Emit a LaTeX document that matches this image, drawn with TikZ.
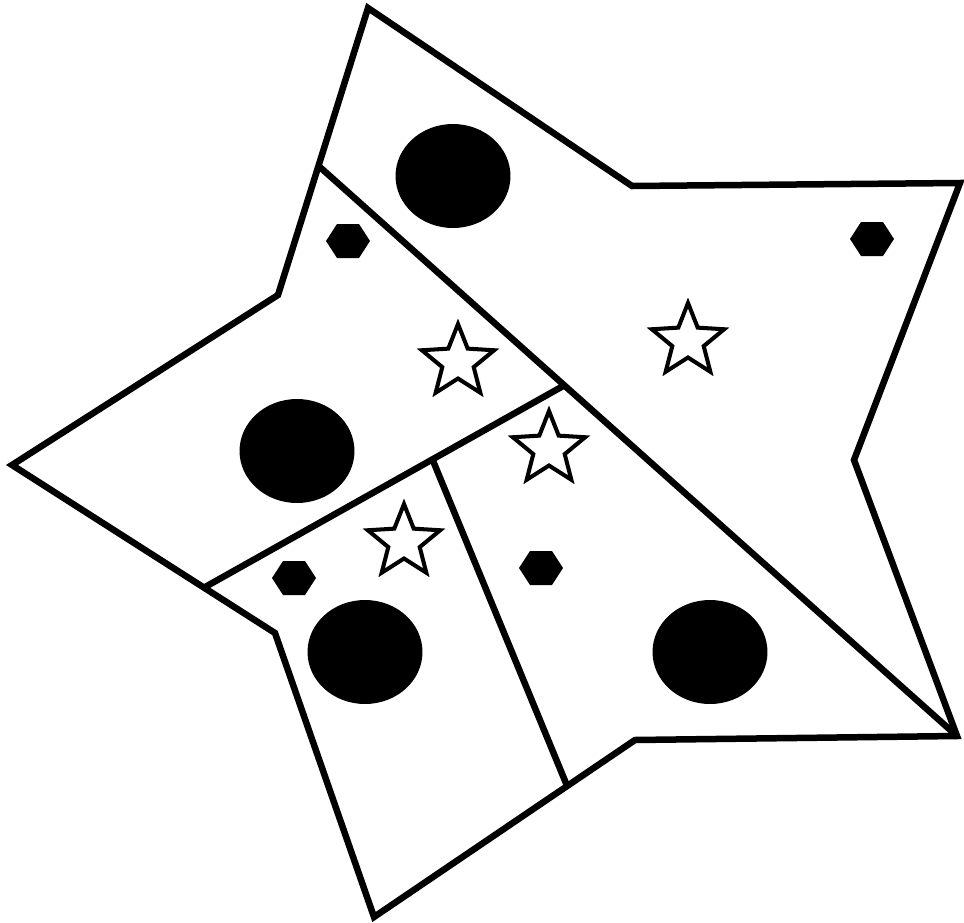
\documentclass[tikz,border=0pt]{standalone}
\usepackage{tikz}
\usetikzlibrary{shapes.geometric,calc}

\begin{document}
\begin{tikzpicture}[
  x=0.02cm, y=-0.02cm,
  outline/.style={draw, line width=3.7pt, line join=miter},
  cut/.style={draw, line width=3.7pt},
  dot/.style={ellipse, fill=black, inner sep=0pt, minimum width=2.3cm, minimum height=2.08cm},
  starmark/.style={star, star points=5, star point ratio=2.3, draw, fill=white, line width=2.3pt, inner sep=0pt, minimum size=1.52cm}
]
\useasboundingbox (0,0) rectangle (964,923);

% --- star outline ---
\coordinate (A) at (368,8);
\coordinate (B) at (632,186);
\coordinate (C) at (960,183);
\coordinate (D) at (854,460);
\coordinate (E) at (957,736);
\coordinate (F) at (635,740);
\coordinate (G) at (374,917);
\coordinate (H) at (275,633);
\coordinate (I) at (12,465);
\coordinate (J) at (278,295);
\draw[outline] (A) -- (B) -- (C) -- (D) -- (E) -- (F) -- (G) -- (H) -- (I) -- (J) -- cycle;

% --- inner cuts ---
\coordinate (P) at ($(A)!0.55!(J)$);
\coordinate (Q) at ($(P)!0.385!(E)$);
\coordinate (R) at ($(I)!0.73!(H)$);
\coordinate (S) at ($(Q)!0.366!(R)$);
\coordinate (T) at ($(F)!0.26!(G)$);
\draw[cut] (P) -- (E);
\draw[cut] (Q) -- (R);
\draw[cut] (S) -- (T);

% --- big dots ---
\node[dot] (d1) at (453,176) {};
\node[dot] (d2) at (297,451) {};
\node[dot] (d3) at (365,652) {};
\node[dot] (d4) at (710,652) {};

% --- small hexagons ---
\foreach \p in {(348,241),(872,239),(294,578),(541,568)}
  \fill \p +(-22,0) -- +(-11,-17) -- +(11,-17) -- +(22,0) -- +(11,17) -- +(-11,17) -- cycle;

% --- stars ---
\node[starmark] (s1) at (458,362) {};
\node[starmark] (s2) at (688,341) {};
\node[starmark] (s3) at (549,449) {};
\node[starmark] (s4) at (404,542) {};
\end{tikzpicture}
\end{document}
